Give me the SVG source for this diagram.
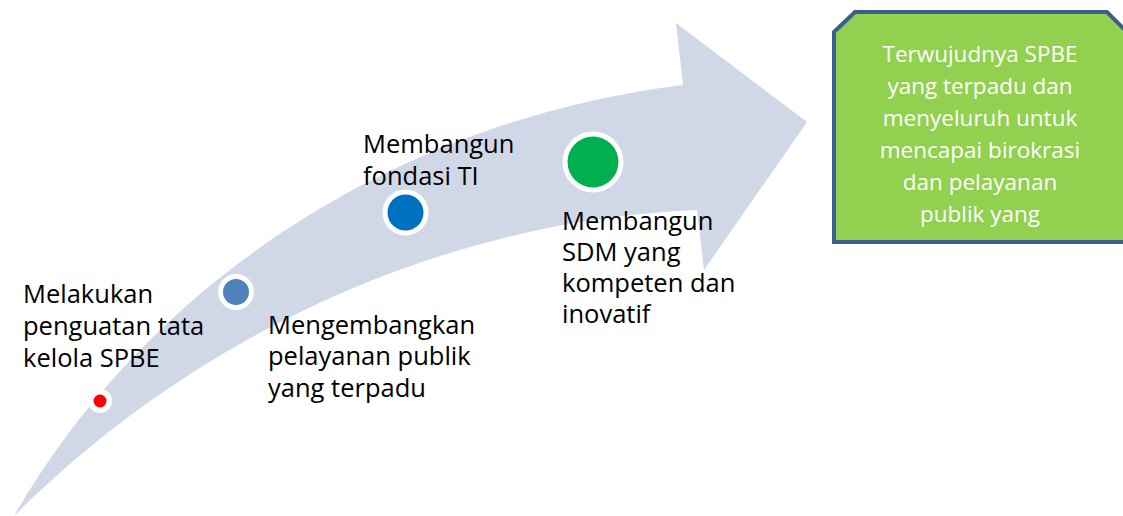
<svg xmlns="http://www.w3.org/2000/svg" width="1123" height="516" viewBox="0 0 1123 516">
<style>
.lbl{font-family:"Open Sans",Lato,"Liberation Sans",sans-serif;font-size:25.5px;fill:#000}
.box{font-family:"Open Sans",Lato,"Liberation Sans",sans-serif;font-size:22.5px;fill:#fff;text-anchor:middle}
.ring{fill:#fff}
</style>
<rect width="1123" height="516" fill="#fff"/>
<g id="connectors">
<path id="arrow" d="M14,516 C150,280 400,120 683,85 L676,23 L807,122 L704,270 L697,210 C450,220 200,330 14,516 Z" fill="#D0D8E7"/>
</g>
<g id="dot-red"><circle class="ring" cx="100" cy="401" r="12"/><circle cx="100" cy="401" r="6.5" fill="#FF0000"/></g>
<g id="dot-blue1"><circle class="ring" cx="236" cy="292" r="18"/><circle cx="236" cy="292" r="13" fill="#4F81BD"/></g>
<g id="dot-blue2"><circle class="ring" cx="405.5" cy="212.5" r="23"/><circle cx="405.5" cy="212.5" r="18" fill="#0070C0"/></g>
<g id="dot-green"><circle class="ring" cx="593" cy="162" r="30.5"/><circle cx="593" cy="162" r="25.5" fill="#00B050"/></g>
<g id="label-1"><text class="lbl" x="23" y="303">Melakukan</text><text class="lbl" x="23" y="335">penguatan tata</text><text class="lbl" x="23" y="367">kelola SPBE</text></g>
<g id="label-2"><text class="lbl" x="268" y="334">Mengembangkan</text><text class="lbl" x="268" y="365">pelayanan publik</text><text class="lbl" x="268" y="397">yang terpadu</text></g>
<g id="label-3"><text class="lbl" x="363" y="153">Membangun</text><text class="lbl" x="363" y="185">fondasi TI</text></g>
<g id="label-4"><text class="lbl" x="562" y="230">Membangun</text><text class="lbl" x="562" y="261">SDM yang</text><text class="lbl" x="562" y="292">kompeten dan</text><text class="lbl" x="562" y="323">inovatif</text></g>
<g id="goal">
<path d="M834,32 L855,12 L1107,12 L1127,32 L1127,242 L834,242 Z" fill="#92D050" stroke="#3B5E91" stroke-width="4"/>
<text class="box" x="980" y="62">Terwujudnya SPBE</text>
<text class="box" x="980" y="94">yang terpadu dan</text>
<text class="box" x="980" y="126">menyeluruh untuk</text>
<text class="box" x="980" y="158">mencapai birokrasi</text>
<text class="box" x="980" y="190">dan pelayanan</text>
<text class="box" x="980" y="222">publik yang</text>
</g>
</svg>
